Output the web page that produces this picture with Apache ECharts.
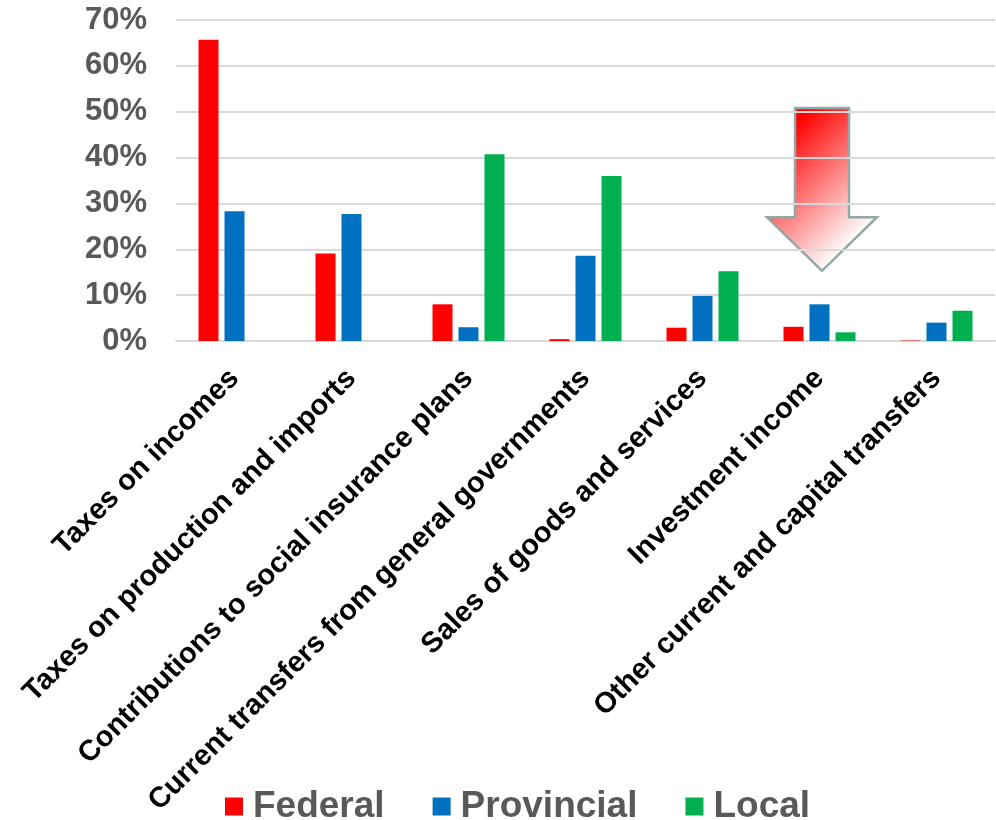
<!DOCTYPE html>
<html>
<head>
<meta charset="utf-8">
<script src="https://cdn.jsdelivr.net/npm/echarts@6/dist/echarts.min.js"></script>
<style>
html,body{margin:0;padding:0;background:#fff;}
#chart{width:996px;height:820px;}
</style>
</head>
<body>
<div id="chart"></div>
<script>
const categories = [
  "Taxes on incomes",
  "Taxes on production and imports",
  "Contributions to social insurance plans",
  "Current transfers from general governments",
  "Sales of goods and services",
  "Investment income",
  "Other current and capital transfers"
];
const federal    = [65.7, 19.1, 8.0, 0.4, 2.9, 3.1, 0.1];
const provincial = [28.3, 27.7, 3.0, 18.6, 9.8, 8.0, 4.0];
const local      = [null, null, 40.7, 36.0, 15.2, 1.9, 6.6];
const yTicks = { min: 0, max: 70, interval: 10 };

const FONT = "'Liberation Sans', Arial, Helvetica, sans-serif";
const chart = echarts.init(document.getElementById('chart'));

const option = {
  backgroundColor: '#ffffff',
  animation: false,
  textStyle: { fontFamily: FONT },
  grid: { left: 176, right: 1, top: 20, bottom: 479, containLabel: false },
  legend: {
    left: 220, top: 783,
    itemWidth: 18, itemHeight: 18, itemGap: 48,
    icon: 'rect',
    textStyle: { fontFamily: FONT, fontSize: 37, fontWeight: 'bold', color: '#595959', padding: [0, 0, 0, 5] },
    data: ['Federal', 'Provincial', 'Local']
  },
  xAxis: {
    type: 'category',
    data: categories,
    axisLine: { show: true, lineStyle: { color: '#d9d9d9', width: 2 } },
    axisTick: { show: false },
    axisLabel: {
      interval: 0, rotate: 45, margin: 33,
      fontFamily: FONT, fontSize: 29, fontWeight: 'bold', color: '#000000'
    }
  },
  yAxis: {
    type: 'value',
    min: yTicks.min, max: yTicks.max, interval: yTicks.interval,
    axisLine: { show: false },
    axisTick: { show: false },
    splitLine: { lineStyle: { color: '#d9d9d9', width: 2 } },
    axisLabel: {
      formatter: '{value}%', margin: 29,
      fontFamily: FONT, fontSize: 31, fontWeight: 'bold', color: '#595959'
    }
  },
  series: [
    { name: 'Federal', type: 'bar', data: federal, barWidth: 20, barGap: '30%', itemStyle: { color: '#ff0000' } },
    { name: 'Provincial', type: 'bar', data: provincial, barWidth: 20, barGap: '30%', itemStyle: { color: '#0070c0' } },
    { name: 'Local', type: 'bar', data: local, barWidth: 20, barGap: '30%', itemStyle: { color: '#00b050' } }
  ]
};
chart.setOption(option);

// Annotation arrow above "Investment income"
const cx = chart.convertToPixel({ xAxisIndex: 0 }, 'Investment income') + 2.5;
const yTop = chart.convertToPixel({ yAxisIndex: 0 }, 50.8);
const yNeck = chart.convertToPixel({ yAxisIndex: 0 }, 27.0);
const yTip = chart.convertToPixel({ yAxisIndex: 0 }, 15.3);
const sw = 27, hw = 55;
const gx = cx - sw, gy = yTop, gd = 96;
chart.setOption({
  graphic: [{
    type: 'polygon',
    z: -1,
    shape: {
      points: [
        [cx - sw, yTop], [cx + sw, yTop], [cx + sw, yNeck], [cx + hw, yNeck],
        [cx, yTip], [cx - hw, yNeck], [cx - sw, yNeck]
      ]
    },
    style: {
      fill: new echarts.graphic.LinearGradient(gx, gy, gx + gd, gy + gd, [
        { offset: 0, color: '#ff0000' },
        { offset: 0.08, color: '#ff0000' },
        { offset: 1, color: '#ffffff' }
      ], true),
      stroke: '#93a7a7',
      lineWidth: 2.5
    }
  }]
});
</script>
</body>
</html>
